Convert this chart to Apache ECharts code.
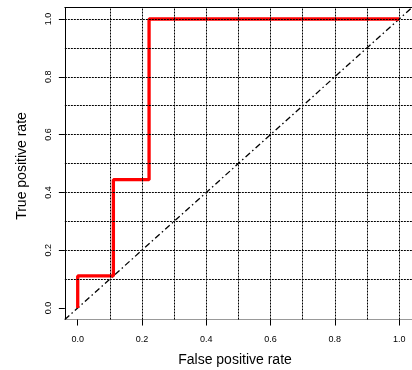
<!DOCTYPE html>
<html>
<head>
<meta charset="utf-8">
<script src="https://cdn.jsdelivr.net/npm/echarts@6/dist/echarts.min.js"></script>
<style>
  html, body { margin: 0; padding: 0; background: #fff; }
  #main { width: 412px; height: 370px; }
</style>
</head>
<body>
<div id="main"></div>
<script>
// ROC curve points (step function)
const fpr = [0, 0, 0.111, 0.111, 0.222, 0.222, 1];
const tpr = [0, 0.111, 0.111, 0.444, 0.444, 1, 1];
// reference diagonal y = x over the full plotting range
const diagX = [-0.04, 1.04];
const diagY = [-0.04, 1.04];
// axis ticks and dotted grid
const tickValues = [0, 0.2, 0.4, 0.6, 0.8, 1];
const gridValues = [0.1, 0.2, 0.3, 0.4, 0.5, 0.6, 0.7, 0.8, 0.9, 1.0];

const chart = echarts.init(document.getElementById('main'));

const fontFamily = '"Liberation Sans", Arial, Helvetica, sans-serif';

const rangeMin = -0.04, rangeMax = 1.04;

const option = {
    animation: false,
    grid: { left: 64.85, top: 7.44, width: 349.6, height: 312.1 },
    xAxis: [
        {
            type: 'value',
            min: rangeMin,
            max: rangeMax,
            axisLine: { show: true, onZero: false, lineStyle: { color: '#999', width: 1 } },
            axisTick: { show: true, length: 6, customValues: tickValues, lineStyle: { color: '#000' } },
            axisLabel: {
                customValues: tickValues,
                margin: 15,
                fontSize: 9,
                color: '#000',
                fontFamily: fontFamily,
                formatter: v => v.toFixed(1)
            },
            splitLine: { show: false }
        },
        {
            type: 'value',
            position: 'top',
            min: rangeMin,
            max: rangeMax,
            axisLine: { show: true, onZero: false, lineStyle: { color: '#000', width: 1 } },
            axisTick: { show: false },
            axisLabel: { show: false },
            splitLine: { show: false }
        }
    ],
    yAxis: {
        type: 'value',
        min: rangeMin,
        max: rangeMax,
        axisLine: { show: true, onZero: false, lineStyle: { color: '#000', width: 1 } },
        axisTick: { show: true, length: 6, customValues: tickValues, lineStyle: { color: '#000' } },
        axisLabel: {
            customValues: tickValues,
            rotate: 90,
            margin: 12,
            fontSize: 9,
            color: '#000',
            fontFamily: fontFamily,
            formatter: v => v.toFixed(1)
        },
        splitLine: { show: false }
    },
    graphic: [
        {
            type: 'text',
            x: 235, y: 360,
            style: {
                text: 'False positive rate',
                fontSize: 14, fontFamily: fontFamily, fill: '#000',
                align: 'center', verticalAlign: 'middle'
            }
        },
        {
            type: 'text',
            x: 22, y: 166,
            rotation: Math.PI / 2,
            style: {
                text: 'True positive rate',
                fontSize: 14, fontFamily: fontFamily, fill: '#000',
                align: 'center', verticalAlign: 'middle'
            }
        }
    ],
    series: [
        {
            // dotted grid
            type: 'line',
            data: [],
            silent: true,
            markLine: {
                silent: true,
                symbol: 'none',
                label: { show: false },
                animation: false,
                lineStyle: { color: '#000', type: [2, 1], width: 1 },
                data: gridValues.map(v => ({ xAxis: v }))
                    .concat(gridValues.map(v => ({ yAxis: v })))
            }
        },
        {
            type: 'line',
            data: diagX.map((x, i) => [x, diagY[i]]),
            symbol: 'none',
            silent: true,
            lineStyle: { color: '#000', width: 1.3, type: [6, 3, 1.5, 3] },
            z: 3
        },
        {
            type: 'line',
            data: fpr.map((x, i) => [x, tpr[i]]),
            symbol: 'none',
            silent: true,
            lineStyle: { color: '#ff0000', width: 3.3 },
            z: 4
        }
    ]
};

chart.setOption(option);
</script>
</body>
</html>
